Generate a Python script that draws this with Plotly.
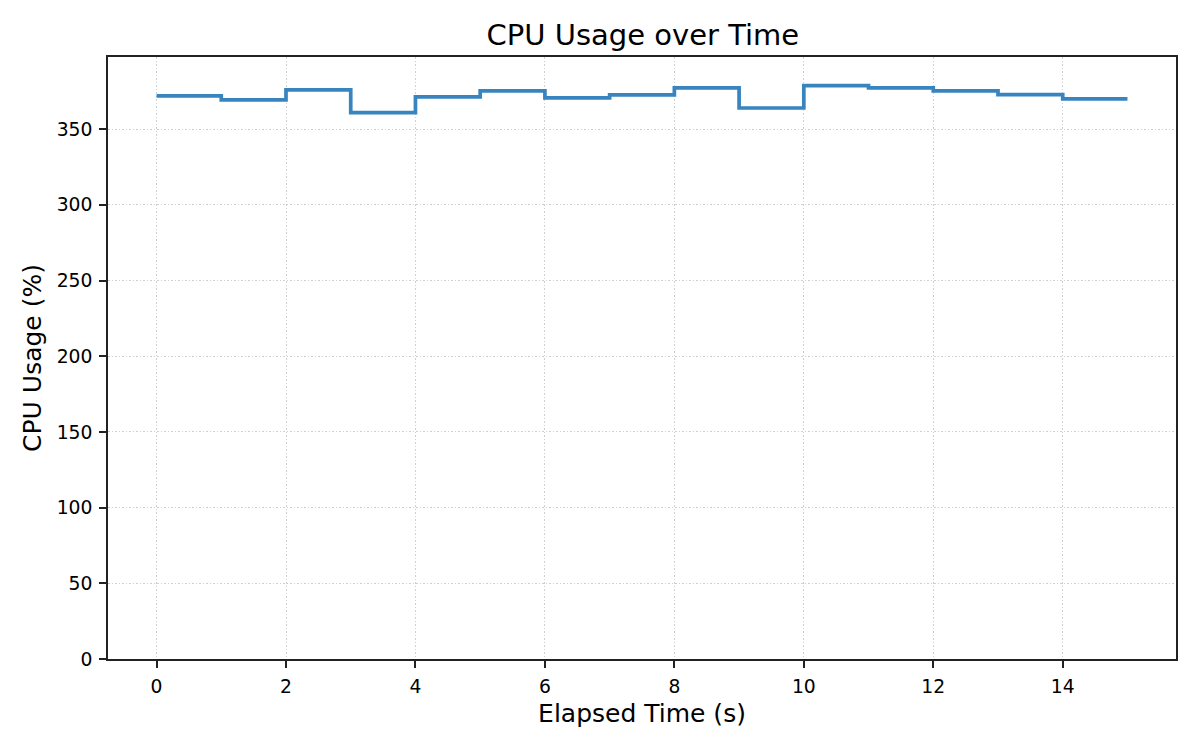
import plotly.graph_objects as go

elapsed_s = list(range(16))
cpu_pct = [372, 369.4, 376, 361, 371.3, 375.3, 370.7, 372.7,
           377.3, 364, 378.8, 377.3, 375.3, 372.9, 370, 370]

fig = go.Figure()
fig.add_trace(go.Scatter(
    x=elapsed_s, y=cpu_pct, mode="lines",
    line=dict(shape="hv", color="#3784bf", width=3.7),
    showlegend=False,
))

axis_common = dict(
    showline=True, linecolor="#222222", linewidth=1.6, mirror=True,
    ticks="outside", ticklen=7, tickwidth=1.6, tickcolor="#222222",
    showgrid=True, gridcolor="#cfcfcf", griddash="1.5px,2px", gridwidth=1.2,
    zeroline=False, tickfont=dict(size=18.75, color="black"),
    ticklabelstandoff=3,
)

fig.update_layout(
    width=1200, height=750,
    paper_bgcolor="white", plot_bgcolor="white",
    font=dict(family="DejaVu Sans", color="black"),
    title=dict(text="CPU Usage over Time", x=0.529, xanchor="center",
               y=0.964, yanchor="middle", font=dict(size=29)),
    margin=dict(l=100, r=32, t=49, b=99),
    xaxis=dict(range=[-0.75, 15.75], dtick=2,
               title=dict(text="Elapsed Time (s)", font=dict(size=25), standoff=8),
               **axis_common),
    yaxis=dict(range=[0, 397.7], dtick=50,
               title=dict(text="CPU Usage (%)", font=dict(size=25), standoff=8),
               **axis_common),
)

fig.write_html("out.html")
